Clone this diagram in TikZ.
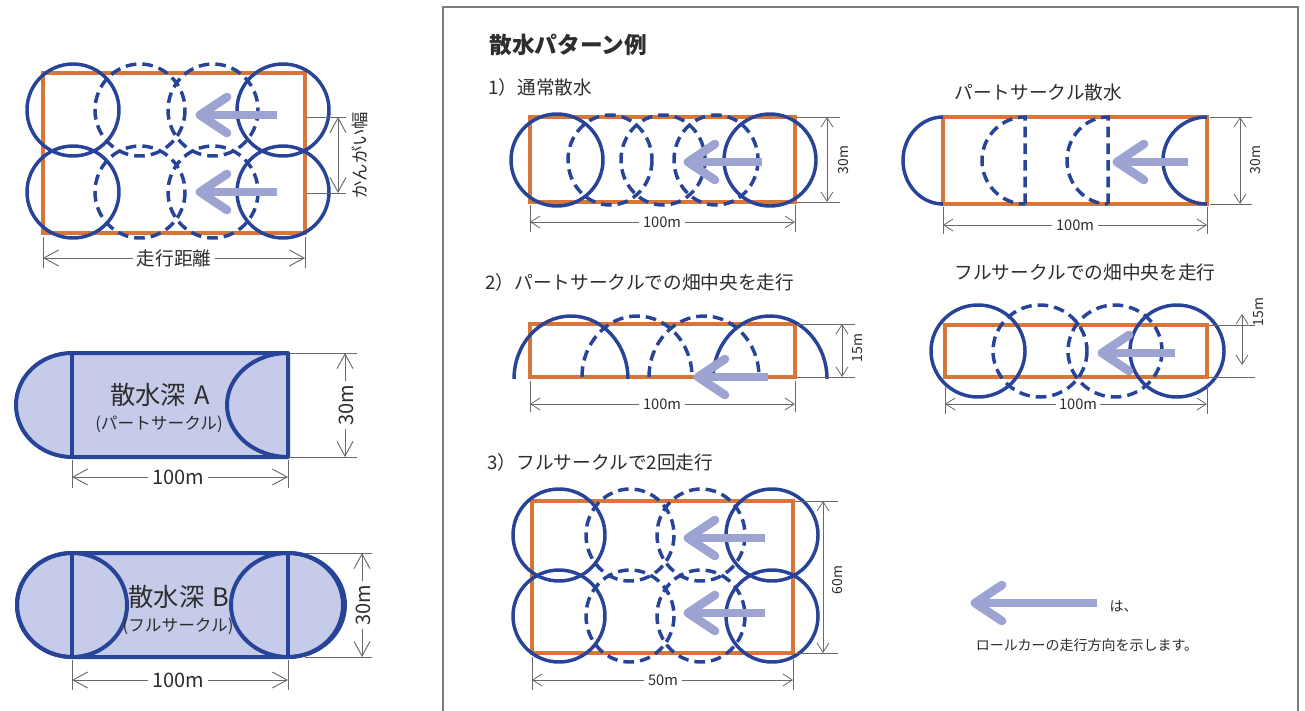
\documentclass[tikz,border=0pt]{standalone}
\usepackage{fontspec}
\newfontfamily\jp{Noto Sans CJK JP}
\usetikzlibrary{arrows.meta}
\definecolor{orangec}{RGB}{216,118,58}
\definecolor{bluec}{RGB}{40,68,152}
\definecolor{arrowc}{RGB}{158,164,210}
\definecolor{fillc}{RGB}{198,203,234}
\definecolor{dimc}{RGB}{105,105,105}
\definecolor{textc}{RGB}{45,45,45}
\definecolor{framec}{RGB}{125,125,125}
\tikzset{
 field/.style={draw=orangec, line width=2.7pt},
 sol/.style={draw=bluec, line width=2.6pt},
 dsh/.style={draw=bluec, line width=2.6pt, dash pattern=on 8pt off 4.5pt},
 shp/.style={draw=bluec, line width=3pt, line join=round},
 dimext/.style={draw=dimc, line width=0.6pt},
 dimbig/.style={draw=dimc, line width=0.7pt, {Straight Barb[length=11pt,width=12pt]}-{Straight Barb[length=11pt,width=12pt]}},
 dimsm/.style={draw=dimc, line width=0.6pt, {Straight Barb[length=7pt,width=9pt]}-{Straight Barb[length=7pt,width=9pt]}},
 lbl/.style={font=\jp, text=textc, inner sep=1pt},
 dlbl/.style={lbl, fill=white, inner sep=3pt},
 ttl/.style={lbl, anchor=west, font=\jp\fontsize{14pt}{16pt}\selectfont},
}
\newcommand\dirarrow[3]{%
 \draw[arrowc, line width=6.5pt] (#2,#3) -- (#1+4,#3);
 \draw[arrowc, line width=6.5pt, line join=round, line cap=round] (#1+27,#3-18) -- (#1,#3) -- (#1+27,#3+18);
}
\begin{document}
\begin{tikzpicture}[x=0.75pt, y=-0.75pt]
\useasboundingbox[fill=white] (0,0) rectangle (1305,710);

% ================= LEFT TOP =================
\draw[field] (43,73) rectangle (305,233);
\foreach \x in {140,213} \foreach \y in {110,192} \draw[dsh] (\x,\y) circle[x radius=45, y radius=46];
\foreach \x in {73,283} \foreach \y in {110,192} \draw[sol] (\x,\y) circle[radius=46];
\dirarrow{200}{277}{115}
\dirarrow{200}{277}{192}
\draw[dimext] (43,237) -- (43,268);
\draw[dimext] (305,237) -- (305,268);
\draw[dimbig] (43,258) -- (305,258);
\node[dlbl, font=\jp\fontsize{14pt}{14pt}\selectfont] (lt1) at (174,258) {走行距離};
\draw[dimext] (307,117) -- (346,117);
\draw[dimext] (307,193) -- (346,193);
\draw[dimbig] (338,117) -- (338,193);
\node[lbl, rotate=90, font=\jp\fontsize{13pt}{13pt}\selectfont] (lt2) at (360,155) {かんがい幅};

% ================= LEFT MIDDLE (A) =================
\fill[fillc] (72,353) -- (288,353) -- (288,457) -- (72,457) arc(90:270:56 and 52) -- cycle;
\draw[shp] (72,353) -- (288,353) -- (288,457) -- (72,457) arc(90:270:56 and 52) -- cycle;
\draw[shp] (72,353) -- (72,457);
\draw[shp] (288,353) arc(270:90:61 and 52);
\node[lbl, font=\jp\fontsize{19pt}{19pt}\selectfont] (a1) at (160,395) {散水深\,\,A};
\node[lbl, font=\jp\fontsize{12.5pt}{12.5pt}\selectfont] (a2) at (159,424) {(パートサークル)};
\draw[dimext] (290,353) -- (357,353);
\draw[dimext] (290,457) -- (357,457);
\draw[dimbig] (345,353) -- (345,457);
\node[dlbl, rotate=90, font=\jp\fontsize{15pt}{15pt}\selectfont] (a3) at (346,405) {30m};
\draw[dimext] (72,460) -- (72,488);
\draw[dimext] (288,460) -- (288,488);
\draw[dimbig] (72,477) -- (288,477);
\node[dlbl, font=\jp\fontsize{15pt}{15pt}\selectfont] (a4) at (178,477) {100m};

% ================= LEFT BOTTOM (B) =================
\fill[fillc] (72,553) -- (288,553) arc(270:450:55 and 52) -- (72,657) arc(90:270:55 and 52) -- cycle;
\draw[shp] (72,553) -- (288,553) arc(270:450:55 and 52) -- (72,657) arc(90:270:55 and 52) -- cycle;
\draw[shp] (72,605) circle[x radius=55, y radius=52];
\draw[shp] (288,605) circle[x radius=57, y radius=52];
\draw[shp] (72,553) -- (72,657);
\draw[shp] (288,553) -- (288,657);
\node[lbl, font=\jp\fontsize{19pt}{19pt}\selectfont] (b1) at (179,597) {散水深\,\,B};
\node[lbl, font=\jp\fontsize{12.5pt}{12.5pt}\selectfont] (b2) at (178,626) {(フルサークル)};
\draw[dimext] (305,553) -- (372,553);
\draw[dimext] (305,657) -- (372,657);
\draw[dimbig] (362,553) -- (362,657);
\node[dlbl, rotate=90, font=\jp\fontsize{15pt}{15pt}\selectfont] (b3) at (363,605) {30m};
\draw[dimext] (72,660) -- (72,690);
\draw[dimext] (288,660) -- (288,690);
\draw[dimbig] (72,680) -- (288,680);
\node[dlbl, font=\jp\fontsize{15pt}{15pt}\selectfont] (b4) at (178,680) {100m};

% ================= RIGHT PANEL =================
\draw[framec, line width=1.1pt] (443,712) -- (443,7) -- (1298,7) -- (1298,712);
\node[lbl, anchor=west, font=\jp\bfseries\fontsize{17pt}{18pt}\selectfont] (title) at (488,45) {散水パターン例};

% --- 1) ---
\node[ttl] (t1) at (487,87) {1）通常散水};
\draw[field] (530,117) rectangle (795,202);
\foreach \x in {610,663,716} \draw[dsh] (\x,160) circle[x radius=42, y radius=45];
\foreach \x in {557,770} \draw[sol] (\x,160) circle[x radius=46, y radius=46];
\dirarrow{688}{762}{162}
\draw[dimext] (797,117) -- (840,117);
\draw[dimext] (797,202) -- (840,202);
\draw[dimsm] (827,117) -- (827,202);
\node[lbl, rotate=90, font=\jp\fontsize{10.5pt}{10.5pt}\selectfont] (d1v) at (843,160) {30m};
\draw[dimext] (530,205) -- (530,232);
\draw[dimext] (795,205) -- (795,232);
\draw[dimsm] (530,222) -- (795,222);
\node[dlbl, font=\jp\fontsize{11pt}{11pt}\selectfont] (d1h) at (662,222) {100m};

% --- part circle ---
\node[ttl] (t1b) at (953,92) {パートサークル散水};
\draw[field] (943,117) rectangle (1207,204);
\draw[dsh] (1025,204) -- (1025,117) arc(270:90:43 and 43.5);
\draw[dsh] (1108,204) -- (1108,117) arc(270:90:41 and 43.5);
\draw[sol] (943,117) arc(270:90:40 and 43.5);
\draw[sol] (1207,117) arc(270:90:44 and 43.5);
\dirarrow{1117}{1188}{162}
\draw[dimext] (1210,117) -- (1252,117);
\draw[dimext] (1210,204) -- (1252,204);
\draw[dimsm] (1240,117) -- (1240,204);
\node[lbl, rotate=90, font=\jp\fontsize{10.5pt}{10.5pt}\selectfont] (d2v) at (1255,160) {30m};
\draw[dimext] (943,207) -- (943,234);
\draw[dimext] (1207,207) -- (1207,234);
\draw[dimsm] (943,225) -- (1207,225);
\node[dlbl, font=\jp\fontsize{11pt}{11pt}\selectfont] (d2h) at (1075,225) {100m};

% --- 2) ---
\node[ttl] (t2) at (484,282) {2）パートサークルでの畑中央を走行};
\draw[field] (530,324) rectangle (795,377);
\foreach \x in {637,704} \draw[dsh] (\x-55,377) arc(180:360:55 and 61);
\foreach \x in {571,770} \draw[sol] (\x-57,379) arc(180:360:57 and 63);
\dirarrow{698}{768}{377}
\draw[dimext] (797,324) -- (855,324);
\draw[dimext] (797,377) -- (855,377);
\draw[dimsm] (842,324) -- (842,377);
\node[lbl, rotate=90, font=\jp\fontsize{10.5pt}{10.5pt}\selectfont] (d3v) at (858,348) {15m};
\draw[dimext] (530,381) -- (530,412);
\draw[dimext] (795,381) -- (795,412);
\draw[dimsm] (530,404) -- (795,404);
\node[dlbl, font=\jp\fontsize{11pt}{11pt}\selectfont] (d3h) at (662,404) {100m};

% --- full circle center ---
\node[ttl] (t2b) at (953,272) {フルサークルでの畑中央を走行};
\draw[field] (945,325) rectangle (1207,377);
\foreach \x in {1040,1115} \draw[dsh] (\x,351) circle[x radius=47, y radius=46];
\foreach \x in {978,1177} \draw[sol] (\x,351) circle[x radius=47, y radius=46];
\dirarrow{1102}{1175}{353}
\draw[dimext] (1209,325) -- (1255,325);
\draw[dimext] (1209,377) -- (1255,377);
\draw[dimsm] (1242,314) -- (1242,365);
\node[lbl, rotate=90, font=\jp\fontsize{10.5pt}{10.5pt}\selectfont] (d4v) at (1259,312) {15m};
\draw[dimext] (945,386) -- (945,414);
\draw[dimext] (1207,386) -- (1207,414);
\draw[dimsm] (945,404) -- (1207,404);
\node[dlbl, inner sep=2pt, font=\jp\fontsize{11pt}{11pt}\selectfont] (d4h) at (1078,404) {100m};

% --- 3) ---
\node[ttl] (t3) at (486,462) {3）フルサークルで2回走行};
\draw[field] (532,501) rectangle (793,653);
\foreach \x in {630,701} \foreach \y in {535,616} \draw[dsh] (\x,\y) circle[x radius=44, y radius=46];
\foreach \x in {559,772} \foreach \y in {535,616} \draw[sol] (\x,\y) circle[radius=46];
\dirarrow{688}{765}{538}
\dirarrow{688}{765}{613}
\draw[dimext] (795,501) -- (838,501);
\draw[dimext] (795,653) -- (838,653);
\draw[dimsm] (823,501) -- (823,653);
\node[lbl, rotate=90, font=\jp\fontsize{10.5pt}{10.5pt}\selectfont] (d5v) at (837,580) {60m};
\draw[dimext] (532,657) -- (532,690);
\draw[dimext] (793,657) -- (793,690);
\draw[dimsm] (532,680) -- (793,680);
\node[dlbl, font=\jp\fontsize{11pt}{11pt}\selectfont] (d5h) at (663,680) {50m};

% --- legend ---
\dirarrow{975}{1097}{603}
\node[lbl, anchor=west, font=\jp\fontsize{10.5pt}{10.5pt}\selectfont] (lg1) at (1108,606) {は、};
\node[lbl, font=\jp\fontsize{10.5pt}{10.5pt}\selectfont] (lg2) at (1087,645) {ロールカーの走行方向を示します。};
\end{tikzpicture}
\end{document}
